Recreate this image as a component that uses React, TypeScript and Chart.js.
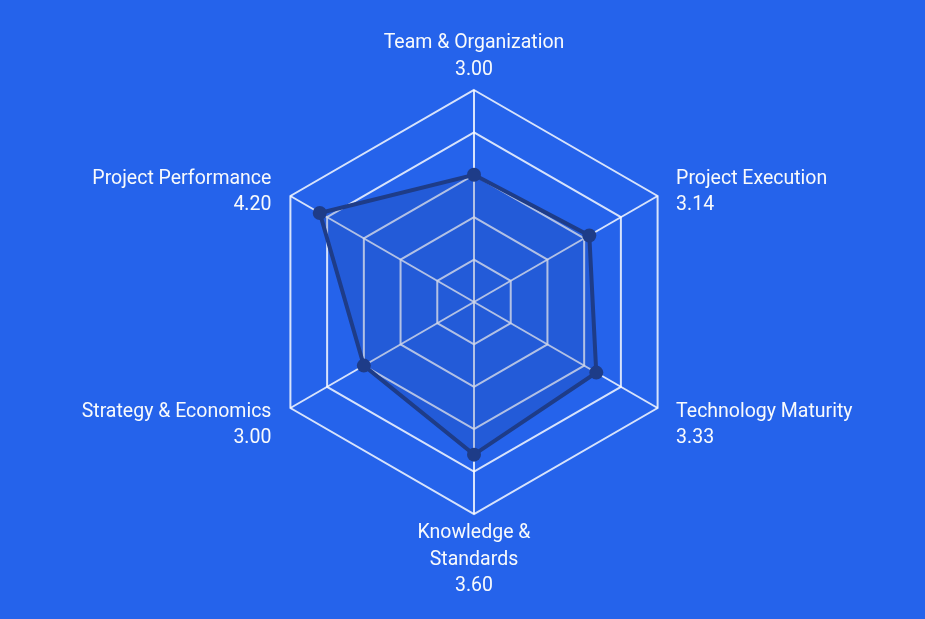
import React, { useEffect, useRef } from "react";
import { Chart, registerables } from "chart.js";

Chart.register(...registerables);

const categories: string[][] = [
  ["Team & Organization"],
  ["Project Execution"],
  ["Technology Maturity"],
  ["Knowledge &", "Standards"],
  ["Strategy & Economics"],
  ["Project Performance"],
];
const scores: number[] = [3.0, 3.14, 3.33, 3.6, 3.0, 4.2];
const scaleMax = 5;

const FONT_SIZE = 19.5;
const LINE = 26.5;

const axisLabelPlugin = {
  id: "axisLabels",
  afterDraw(chart: any) {
    const scale = chart.scales.r;
    const ctx = chart.ctx as CanvasRenderingContext2D;
    const labels: string[][] = chart.data.labels;
    ctx.save();
    ctx.fillStyle = "#f8fafc";
    ctx.font = `${FONT_SIZE}px Roboto`;
    ctx.textBaseline = "alphabetic";
    labels.forEach((lines, i) => {
      const p = scale.getPointPositionForValue(i, scale.max);
      const dx = p.x - scale.xCenter;
      const dy = p.y - scale.yCenter;
      const r = Math.hypot(dx, dy) || 1;
      const ux = dx / r;
      const uy = dy / r;
      let x = p.x;
      let firstBaseline = 0;
      if (Math.abs(ux) < 0.01) {
        ctx.textAlign = "center";
        if (uy < 0) {
          firstBaseline = p.y - 15.5 - LINE * (lines.length - 1);
        } else {
          firstBaseline = p.y + 24;
        }
      } else {
        ctx.textAlign = ux > 0 ? "left" : "right";
        x = p.x + (ux > 0 ? 18.5 : -19);
        firstBaseline = uy < 0 ? p.y - 12.5 : p.y + 8.8;
      }
      lines.forEach((t, k) => ctx.fillText(t, x, firstBaseline + k * LINE));
    });
    ctx.restore();
  },
};

export default function App() {
  const ref = useRef<HTMLCanvasElement | null>(null);
  useEffect(() => {
    if (!ref.current) return;
    const labels = categories.map((c, i) => [...c, scores[i].toFixed(2)]);
    const chart = new Chart(ref.current, {
      type: "radar",
      data: {
        labels,
        datasets: [
          {
            data: scores,
            borderColor: "#1e3c88",
            backgroundColor: "rgba(30,58,138,0.2)",
            borderWidth: 4,
            pointRadius: 7,
            pointHoverRadius: 7,
            pointBackgroundColor: "#1e3c88",
            pointBorderColor: "#1e3c88",
            pointBorderWidth: 0,
            fill: true,
          },
        ],
      },
      options: {
        animation: false,
        responsive: true,
        maintainAspectRatio: false,
        layout: { padding: { top: 90, bottom: 105, left: 262, right: 238 } },
        plugins: { legend: { display: false }, tooltip: { enabled: false } },
        scales: {
          r: {
            min: 0,
            max: scaleMax,
            ticks: { display: false, stepSize: 1 },
            grid: { color: "rgba(255,255,255,0.82)", lineWidth: 2 },
            angleLines: { color: "rgba(255,255,255,0.82)", lineWidth: 2 },
            pointLabels: { display: false },
          },
        },
      },
      plugins: [axisLabelPlugin],
    });
    return () => chart.destroy();
  }, []);
  return (
    <div style={{ position: "fixed", inset: 0, background: "#2563eb" }}>
      <canvas ref={ref} />
    </div>
  );
}
